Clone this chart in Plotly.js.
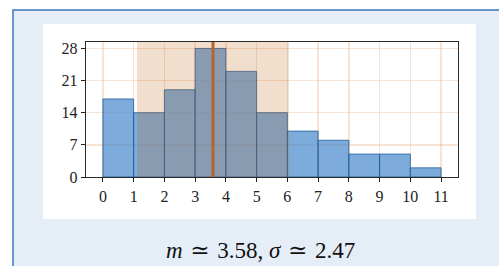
<!DOCTYPE html>
<html>
<head>
<meta charset="utf-8">
<script src="https://cdn.plot.ly/plotly-3.0.1.min.js"></script>
<style>
  html, body { margin: 0; padding: 0; background: #ffffff; }
  #chart { width: 499px; height: 266px; }
</style>
</head>
<body>
<div id="chart"></div>
<script>
// Data
const binStarts = [0, 1, 2, 3, 4, 5, 6, 7, 8, 9, 10];
const counts = [17, 14, 19, 28, 23, 14, 10, 8, 5, 5, 2];
const xTicks = [0, 1, 2, 3, 4, 5, 6, 7, 8, 9, 10, 11];
const yTicks = [0, 7, 14, 21, 28];
const meanValue = 3.58;
const sigmaValue = 2.47;

const serif = "'Liberation Serif', 'DejaVu Serif', serif";

const trace = {
  type: 'bar',
  x: binStarts,
  y: counts,
  width: binStarts.map(() => 1),
  offset: 0,
  marker: {
    color: 'rgba(68,135,205,0.7)',
    line: { color: 'rgba(25,85,150,0.75)', width: 1 }
  },
  hoverinfo: 'skip'
};

const layout = {
  width: 499,
  height: 266,
  margin: { l: 86, r: 41, t: 42, b: 89 },
  paper_bgcolor: '#ffffff',
  plot_bgcolor: '#ffffff',
  showlegend: false,
  bargap: 0,
  xaxis: {
    range: [-0.55, 11.55],
    tickvals: xTicks,
    ticktext: xTicks.map(String),
    ticks: 'outside',
    ticklen: 4,
    tickcolor: '#222',
    showline: true,
    mirror: true,
    linecolor: '#2a2a2a',
    linewidth: 1.3,
    showgrid: true,
    gridcolor: 'rgba(225,130,60,0.22)',
    gridwidth: 1.5,
    zeroline: false,
    tickfont: { family: serif, size: 16, color: '#222' }
  },
  yaxis: {
    range: [0, 29.4],
    tickvals: yTicks,
    ticktext: yTicks.map(String),
    ticks: 'outside',
    ticklen: 4,
    tickcolor: '#222',
    showline: true,
    mirror: true,
    linecolor: '#2a2a2a',
    linewidth: 1.3,
    showgrid: true,
    gridcolor: 'rgba(225,130,60,0.22)',
    gridwidth: 1.5,
    zeroline: false,
    tickfont: { family: serif, size: 16, color: '#222' }
  },
  shapes: [
    // outer light-blue box with blue border (left/top visible)
    { type: 'rect', xref: 'paper', yref: 'paper', layer: 'below',
      x0: (13 - 86) / 372, x1: (530 - 86) / 372,
      y0: (177 - 290) / 135, y1: (177 - 10) / 135,
      fillcolor: '#e5edf7', line: { color: '#3a78c2', width: 1.5 } },
    // white inner panel
    { type: 'rect', xref: 'paper', yref: 'paper', layer: 'below',
      x0: (43 - 86) / 372, x1: (476 - 86) / 372,
      y0: (177 - 219) / 135, y1: (177 - 24) / 135,
      fillcolor: '#ffffff', line: { width: 0 } },
    // mean ± sigma band
    { type: 'rect', xref: 'x', yref: 'paper', layer: 'above',
      x0: meanValue - sigmaValue, x1: meanValue + sigmaValue,
      y0: 0, y1: 1,
      fillcolor: 'rgba(190,100,15,0.21)', line: { width: 0 } },
    // mean line
    { type: 'line', xref: 'x', yref: 'paper', layer: 'above',
      x0: meanValue, x1: meanValue, y0: 0, y1: 1,
      line: { color: '#b5652a', width: 3 } }
  ],
  annotations: [
    { xref: 'paper', yref: 'paper',
      x: (260 - 86) / 372, y: (177 - 250) / 135,
      xanchor: 'center', yanchor: 'middle', showarrow: false,
      text: '<i>m</i>\u200A ≃ \u200A' + meanValue.toFixed(2) + ', <i>σ</i>\u200A ≃ \u200A' + sigmaValue.toFixed(2),
      font: { family: serif, size: 23, color: '#111' } }
  ]
};

Plotly.newPlot('chart', [trace], layout, { displayModeBar: false, staticPlot: true });
</script>
</body>
</html>
